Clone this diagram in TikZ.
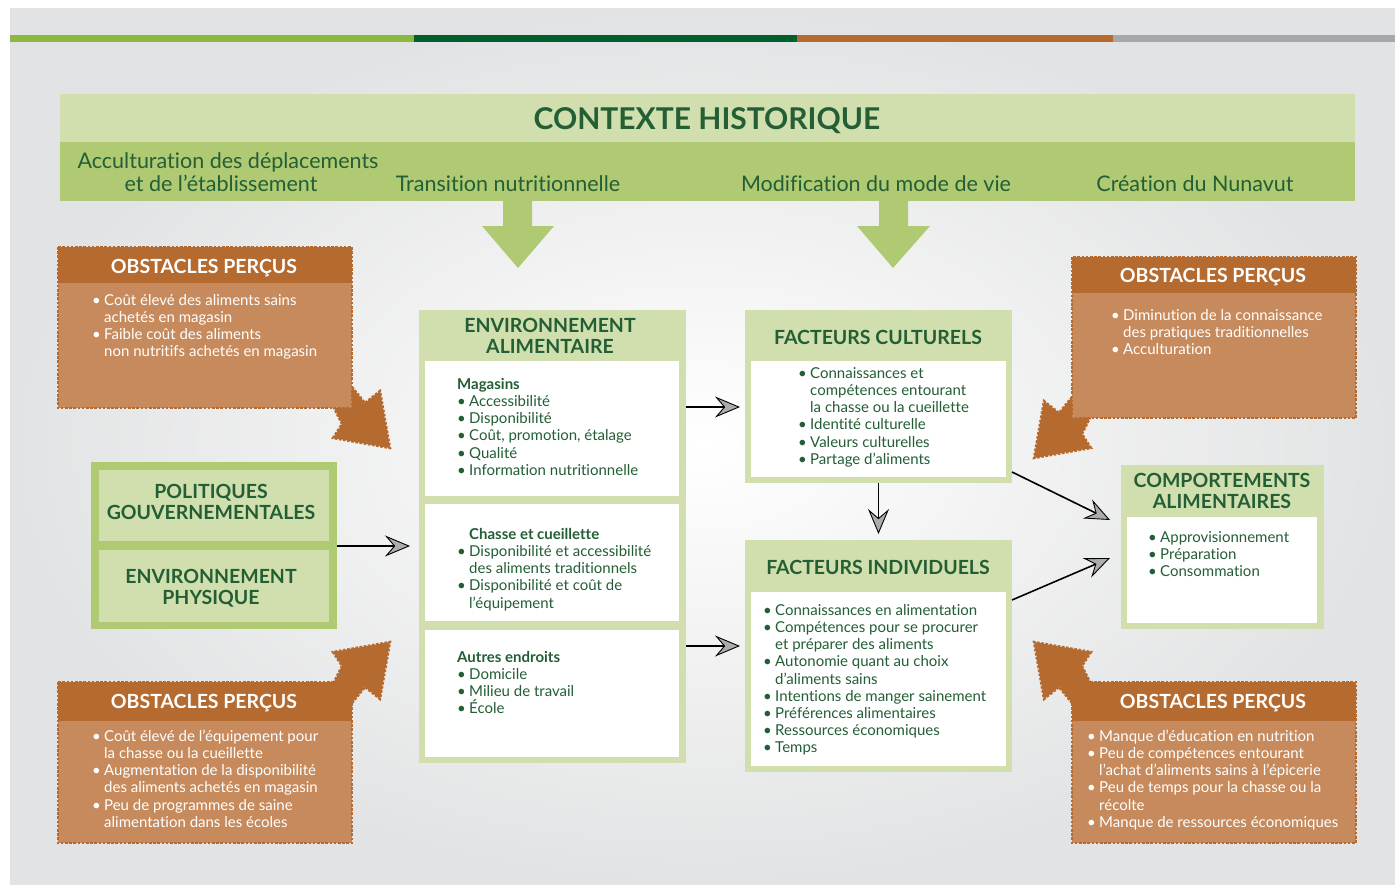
\documentclass[tikz,border=0pt]{standalone}
\usepackage{fontspec}
\setmainfont{Lato}[Ligatures=NoCommon]
\usetikzlibrary{arrows.meta}
\definecolor{dg}{HTML}{235E35}
\definecolor{lgreen}{HTML}{D0DFAD}
\definecolor{mgreen}{HTML}{AFCA73}
\definecolor{brd}{HTML}{B56A2F}
\definecolor{brl}{HTML}{C68A5C}
\definecolor{sgreen}{HTML}{8DB83F}
\definecolor{sdark}{HTML}{00602B}
\definecolor{sgray}{HTML}{A7A8AB}
\definecolor{bggray}{HTML}{E2E3E4}
\newcommand\mybul{\makebox[12pt][l]{•}}
\newcommand\myind{\hspace*{12pt}}
\newcommand\myst{\rule{0pt}{13pt}}
\newcommand\hst{\rule{0pt}{15pt}}
\newcommand\obsarrow[3]{\begin{scope}[shift={#1},xscale=#2,yscale=#3]
 \path[perf, fill=brd] (0,-21) -- (13,-5) -- (28,-17) -- (38,40) -- (-19,30) -- (-10,16) -- (-18,0) -- (0,0) -- cycle;
\end{scope}}
\begin{document}
\begin{tikzpicture}[x=1pt,y=-1pt,
  txt/.style={text=dg, font=\fontsize{15}{17.2}\selectfont, align=left, inner sep=0pt, anchor=north west},
  wtxt/.style={txt, text=white},
  hd/.style={text=dg, font=\fontsize{19.5}{21}\selectfont\bfseries, align=center, inner sep=0pt, anchor=north},
  whd/.style={text=white, font=\fontsize{19.5}{21}\selectfont\bfseries, inner sep=0pt, anchor=base},
  sub/.style={text=dg, font=\fontsize{21.5}{23}\selectfont, inner sep=0pt, anchor=base},
  box/.style={inner sep=0pt, outer sep=0pt, anchor=north west, draw=none},
  perf/.style={draw=brd, line width=2.4pt, dash pattern=on 2.6pt off 1.6pt},
  conn/.style={draw=black, line width=1.6pt, -{Stealth[length=25pt,width=21pt,inset=9pt,fill=gray!65,line width=0.9pt]}},
]
\useasboundingbox (0,0) rectangle (1395,884);
\fill[white] (0,0) rectangle (1395,884);
\shade[inner color=white, outer color=bggray] (10,8) rectangle (1395,884);
% stripe
\fill[sgreen] (10,35) rectangle (414,42);
\fill[sdark] (414,35) rectangle (797,42);
\fill[brd] (797,35) rectangle (1113,42);
\fill[sgray] (1113,35) rectangle (1395,42);
% context
\fill[lgreen] (60,94) rectangle (1355,142);
\fill[mgreen] (60,142) rectangle (1355,201);
\node[text=dg, font=\fontsize{30}{32}\selectfont\bfseries, inner sep=0pt, anchor=base] (ctx) at (707,129) {CONTEXTE HISTORIQUE};
\node[sub] (s1a) at (228,168) {Acculturation des déplacements};
\node[sub] (s1b) at (221,191) {et de l’établissement};
\node[sub] (s2) at (508,191) {Transition nutritionnelle};
\node[sub] (s3) at (876,191) {Modification du mode de vie};
\node[sub] (s4) at (1195,191) {Création du Nunavut};
\fill[mgreen] (503,200) -- (532,200) -- (532,226) -- (554,226) -- (518,268) -- (482,226) -- (503,226) -- cycle;
\fill[mgreen] (879,200) -- (908,200) -- (908,226) -- (930,226) -- (893,268) -- (857,226) -- (879,226) -- cycle;
% obstacle arrows
\obsarrow{(352,408)}{1}{1}
\obsarrow{(1072,418)}{-1}{1}
\obsarrow{(352,682)}{1}{-1}
\obsarrow{(1072,682)}{-1}{-1}
% obstacle boxes
\fill[brl] (58,283) rectangle (352,408);
\fill[brd] (58,247) rectangle (352,283);
\draw[perf] (58,247) rectangle (352,408);
\fill[brl] (1072,293) rectangle (1356,418);
\fill[brd] (1072,257) rectangle (1356,293);
\draw[perf] (1072,257) rectangle (1356,418);
\fill[brl] (58,721) rectangle (352,843);
\fill[brd] (58,682) rectangle (352,721);
\draw[perf] (58,682) rectangle (352,843);
\fill[brl] (1072,721) rectangle (1356,843);
\fill[brd] (1072,682) rectangle (1356,721);
\draw[perf] (1072,682) rectangle (1356,843);
\node[whd] (o1h) at (204,273) {OBSTACLES PERÇUS};
\node[whd] (o2h) at (1213,282) {OBSTACLES PERÇUS};
\node[whd] (o3h) at (204,708) {OBSTACLES PERÇUS};
\node[whd] (o4h) at (1213,708) {OBSTACLES PERÇUS};
\node[wtxt] (o1t) at (92,292) {\myst\mybul Coût élevé des aliments sains\\\myind achetés en magasin\\\mybul Faible coût des aliments\\\myind non nutritifs achetés en magasin};
\node[wtxt] (o2t) at (1111,307) {\myst\mybul Diminution de la connaissance\\\myind des pratiques traditionnelles\\\mybul Acculturation};
\node[wtxt] (o3t) at (92,728) {\myst\mybul Coût élevé de l’équipement pour\\\myind la chasse ou la cueillette\\\mybul Augmentation de la disponibilité\\\myind des aliments achetés en magasin\\\mybul Peu de programmes de saine\\\myind alimentation dans les écoles};
\node[wtxt] (o4t) at (1087,728) {\myst\mybul Manque d’éducation en nutrition\\\mybul Peu de compétences entourant\\\myind l’achat d’aliments sains à l’épicerie\\\mybul Peu de temps pour la chasse ou la\\\myind récolte\\\mybul Manque de ressources économiques};
% politiques
\node[box, fill=mgreen, minimum width=246, minimum height=167] (pol) at (91,462) {};
\node[box, fill=lgreen, minimum width=230, minimum height=71] (pol1) at (99,470) {};
\node[box, fill=lgreen, minimum width=230, minimum height=72] (pol2) at (99,550) {};
\node[hd] (pol1t) at (211,483) {\hst POLITIQUES\\GOUVERNEMENTALES};
\node[hd] (pol2t) at (211,568) {\hst ENVIRONNEMENT\\PHYSIQUE};
% environnement alimentaire
\node[box, fill=lgreen, minimum width=267, minimum height=453] (ea) at (419,310) {};
\node[box, fill=white, minimum width=254, minimum height=135] (ea1) at (425,361) {};
\node[box, fill=white, minimum width=254, minimum height=117] (ea2) at (425,504) {};
\node[box, fill=white, minimum width=254, minimum height=127] (ea3) at (425,630) {};
\node[hd] (eat) at (550,317) {\hst ENVIRONNEMENT\\ALIMENTAIRE};
\node[txt] (ea1t) at (457,376) {\myst\textbf{Magasins}\\\mybul Accessibilité\\\mybul Disponibilité\\\mybul Coût, promotion, étalage\\\mybul Qualité\\\mybul Information nutritionnelle};
\node[txt] (ea2t) at (457,526) {\myst\myind\textbf{Chasse et cueillette}\\\mybul Disponibilité et accessibilité\\\myind des aliments traditionnels\\\mybul Disponibilité et coût de\\\myind l’équipement};
\node[txt] (ea3t) at (457,649) {\myst\textbf{Autres endroits}\\\mybul Domicile\\\mybul Milieu de travail\\\mybul École};
% facteurs culturels
\node[box, fill=lgreen, minimum width=267, minimum height=173] (fc) at (745,310) {};
\node[box, fill=white, minimum width=255, minimum height=116] (fcw) at (751,361) {};
\node[hd] (fct) at (878,329) {\hst FACTEURS CULTURELS};
\node[txt] (fctx) at (798,365) {\myst\mybul Connaissances et\\\myind compétences entourant\\\myind la chasse ou la cueillette\\\mybul Identité culturelle\\\mybul Valeurs culturelles\\\mybul Partage d’aliments};
% facteurs individuels
\node[box, fill=lgreen, minimum width=267, minimum height=232] (fi) at (745,540) {};
\node[box, fill=white, minimum width=255, minimum height=174] (fiw) at (751,592) {};
\node[hd] (fit) at (878,559) {\hst FACTEURS INDIVIDUELS};
\node[txt] (fitx) at (763,602) {\myst\mybul Connaissances en alimentation\\\mybul Compétences pour se procurer\\\myind et préparer des aliments\\\mybul Autonomie quant au choix\\\myind d’aliments sains\\\mybul Intentions de manger sainement\\\mybul Préférences alimentaires\\\mybul Ressources économiques\\\mybul Temps};
% comportements
\node[box, fill=lgreen, minimum width=203, minimum height=164] (co) at (1121,465) {};
\node[box, fill=white, minimum width=190, minimum height=106] (cow) at (1127,517) {};
\node[hd] (cot) at (1222,472) {\hst COMPORTEMENTS\\ALIMENTAIRES};
\node[txt] (cotx) at (1148,529) {\myst\mybul Approvisionnement\\\mybul Préparation\\\mybul Consommation};
% connectors
\coordinate (t1) at (410,546);
\coordinate (t2) at (740,407);
\coordinate (t3) at (740,646);
\coordinate (s5) at (1012,472);
\coordinate (t5) at (1110,520);
\coordinate (s6) at (1012,600);
\coordinate (t6) at (1110,558);
\draw[conn] (pol.east |- t1) -- (t1);
\draw[conn] (ea.east |- t2) -- (t2);
\draw[conn] (ea.east |- t3) -- (t3);
\draw[conn, shorten >=6pt] (fc.south) -- (fi.north);
\draw[conn] (s5) -- (t5);
\draw[conn] (s6) -- (t6);
\end{tikzpicture}
\end{document}
